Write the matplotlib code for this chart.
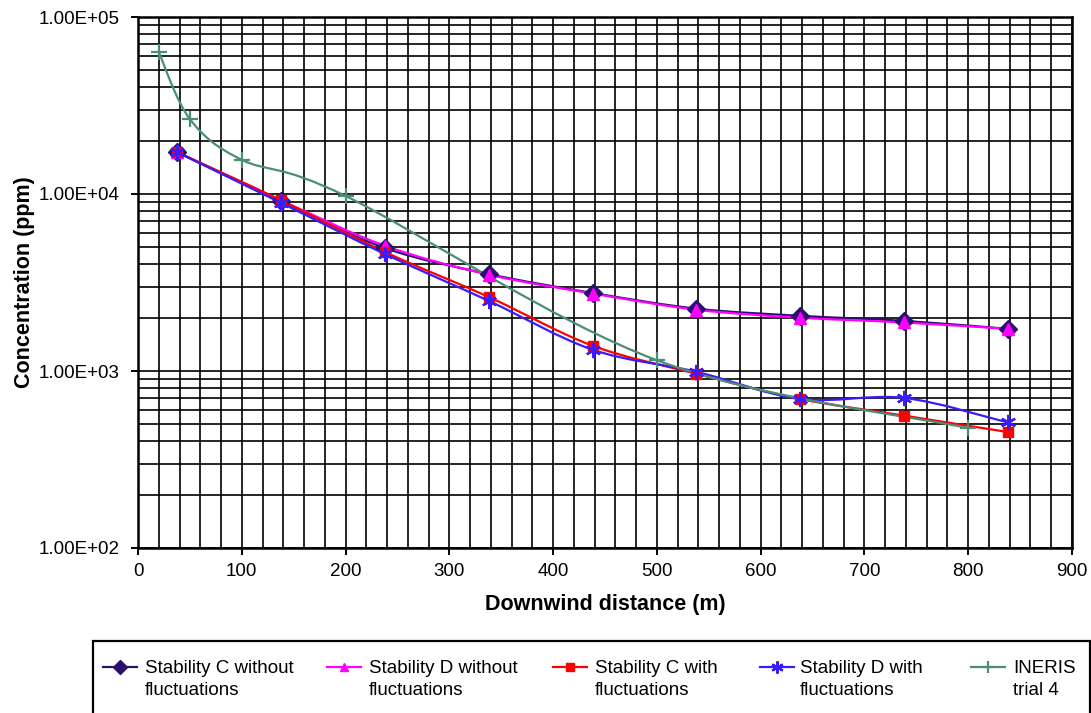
import numpy as np
import matplotlib
matplotlib.use("Agg")
import matplotlib.pyplot as plt
from matplotlib.path import Path
from matplotlib.patches import PathPatch, Rectangle
from matplotlib.lines import Line2D
from matplotlib.ticker import FixedLocator, FuncFormatter, MultipleLocator

plt.rcParams['font.family'] = ['Liberation Sans', 'DejaVu Sans']

# ---- data ----
dist_model = [38, 138, 238, 338, 438, 538, 638, 738, 838]
c_without = [17200, 9100, 4950, 3530, 2760, 2250, 2050, 1920, 1730]
d_without = [17200, 9200, 5100, 3500, 2740, 2220, 2000, 1880, 1730]
c_with = [17200, 9200, 4700, 2620, 1390, 965, 695, 560, 452]
d_with = [17200, 8900, 4580, 2490, 1320, 990, 695, 705, 512]
dist_ineris = [20, 50, 100, 200, 500, 800]
ineris = [63400, 26500, 15600, 9750, 1150, 476]

labels = ["Stability C without\nfluctuations", "Stability D without\nfluctuations",
          "Stability C with\nfluctuations", "Stability D with\nfluctuations",
          "INERIS\ntrial 4"]
yticks = [100, 1000, 10000, 100000]

W, H = 1091, 713
fig = plt.figure(figsize=(W / 100, H / 100), dpi=100)
ax = fig.add_axes([138 / W, 1 - 548 / H, (1072 - 138) / W, (548 - 17) / H])
ax.set_yscale('log')
ax.set_xlim(0, 900)
ax.set_ylim(100, 100000)


def smooth_patch(x, y, color, lw, z):
    pts = np.column_stack([np.asarray(x, float), np.log10(np.asarray(y, float))])
    n = len(pts)
    verts = [pts[0]]
    codes = [Path.MOVETO]
    for i in range(n - 1):
        p0 = pts[i - 1] if i > 0 else pts[i]
        p1 = pts[i]
        p2 = pts[i + 1]
        p3 = pts[i + 2] if i + 2 < n else pts[i + 1]
        c1 = p1 + (p2 - p0) / 6.0
        c2 = p2 - (p3 - p1) / 6.0
        verts += [c1, c2, p2]
        codes += [Path.CURVE4] * 3
    verts = np.array(verts)
    verts[:, 1] = 10 ** verts[:, 1]
    patch = PathPatch(Path(verts, codes), transform=ax.transData, fill=False,
                      edgecolor=color, lw=lw, zorder=z, capstyle='round', joinstyle='round')
    ax.add_patch(patch)


series = [
    (dist_model, c_without, '#2B0F6E', 'D', 9, '#2B0F6E', 1.0),
    (dist_model, d_without, '#FF00FF', '^', 8, '#FF00FF', 1.0),
    (dist_model, c_with, '#FF0000', 's', 7, '#FF0000', 1.0),
    (dist_model, d_with, '#3A1AFF', (6, 2, 0), 11, '#3A1AFF', 1.6),
    (dist_ineris, ineris, '#4A8E78', '+', 11, '#4A8E78', 1.6),
]

for k, (xs, ys, col, mk, ms, mc, mew) in enumerate(series):
    smooth_patch(xs, ys, col, 1.6, 3 + k)
    ax.plot(xs, ys, linestyle='none', marker=mk, markersize=ms, color=mc,
            markeredgecolor=mc, markeredgewidth=mew, zorder=10 + k)

# grid
ax.xaxis.set_major_locator(MultipleLocator(100))
ax.xaxis.set_minor_locator(MultipleLocator(20))
ax.yaxis.set_major_locator(FixedLocator(yticks))
ax.yaxis.set_major_formatter(FuncFormatter(lambda v, p: f"{v:.2E}"))
ax.yaxis.set_minor_locator(matplotlib.ticker.LogLocator(base=10, subs=np.arange(2, 10)))
ax.yaxis.set_minor_formatter(matplotlib.ticker.NullFormatter())
ax.grid(True, which='both', color='black', lw=1.2, zorder=0)
ax.set_axisbelow(True)
for s in ax.spines.values():
    s.set_linewidth(1.8)
ax.tick_params(axis='both', which='major', direction='out', length=5, width=1.4,
               labelsize=13.5)
ax.tick_params(axis='y', which='major', pad=8)
ax.tick_params(axis='x', which='major', pad=6)
ax.tick_params(axis='both', which='minor', length=0)

ax.set_xlabel("Downwind distance (m)", fontsize=15.5, fontweight='bold', labelpad=10)
ax.set_ylabel("Concentration (ppm)", fontsize=15.5, fontweight='bold', labelpad=3)

# manual legend box
def fx(px):
    return px / W


def fy(py):
    return 1 - py / H


fig.patches.append(Rectangle((fx(93), fy(725)), fx(1090) - fx(93), fy(641) - fy(725),
                             transform=fig.transFigure, fill=False, edgecolor='black',
                             lw=1.6))
hx = [103, 327, 553, 760, 971]
tx = [145, 369, 595, 800, 1013]
for k, (xs, ys, col, mk, ms, mc, mew) in enumerate(series):
    yy = fy(667)
    fig.lines.append(Line2D([fx(hx[k]), fx(hx[k] + 34)], [yy, yy], color=col, lw=1.6,
                            transform=fig.transFigure))
    fig.lines.append(Line2D([fx(hx[k] + 17)], [yy], marker=mk, markersize=ms * 0.8,
                            color=mc, markeredgecolor=mc, markeredgewidth=mew,
                            linestyle='none', transform=fig.transFigure))
    fig.text(fx(tx[k]), fy(679.5), labels[k], fontsize=13.5, ha='left', va='center',
             linespacing=1.38)

fig.savefig("out.png", dpi=100)
